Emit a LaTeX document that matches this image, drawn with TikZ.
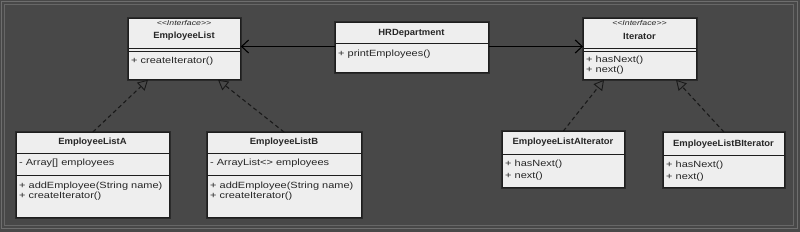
\documentclass[tikz,border=0pt]{standalone}
\usepackage{fontspec}
\setmainfont{Liberation Sans}
\newfontfamily\namefont{Liberation Sans}[FakeStretch=1.05]
\newfontfamily\bodyfont{Liberation Sans}[FakeStretch=1.22]
\newfontfamily\stfont{Liberation Sans}[FakeStretch=1.25]
\usetikzlibrary{arrows.meta,calc}
\definecolor{bgc}{HTML}{484848}
\definecolor{framec}{HTML}{6E6E6E}
\definecolor{boxfill}{HTML}{EEEEEE}
\definecolor{boxline}{HTML}{1E1E1E}
\definecolor{txt}{HTML}{262626}
\begin{document}
\begin{tikzpicture}[x=1pt,y=-1pt,
  box/.style={draw=boxline, fill=boxfill, line width=0.8pt, inner sep=0pt, anchor=north west,
    preaction={draw=black!40!bgc, line width=3.5pt}},
  sepline/.style={draw=boxline, line width=0.8pt},
  namet/.style={font=\namefont\bfseries\fontsize{9}{10}\selectfont, text=txt, inner sep=0pt},
  stt/.style={font=\stfont\itshape\fontsize{7}{8}\selectfont, text=txt, inner sep=0pt},
  memb/.style={font=\bodyfont\fontsize{9}{10}\selectfont, text=txt, inner sep=0pt, anchor=west},
  assoc/.style={draw=black, line width=1.1pt, -{Straight Barb[length=7pt,width=13pt,line width=1.1pt]}},
  realize/.style={draw=black!90, line width=1.1pt, dash pattern=on 4pt off 3pt,
    -{Triangle[length=10pt,width=11pt,fill=bgc,line width=0.9pt]}}
]
% background and frame
\fill[bgc] (0,0) rectangle (800,232);
\useasboundingbox (0,0) rectangle (800,232);
\draw[framec, line width=0.8pt] (1.5,1.5) rectangle (797,228.5);
\draw[framec!80!bgc, line width=0.6pt] (4.5,4.5) rectangle (793.5,225.5);

% EmployeeList
\node[box, minimum width=112pt, minimum height=61pt] (el) at (128,18) {};
\node[stt] (elst) at (184,23.5) {<<Interface>>};
\node[namet] (eln) at (184,36.5) {EmployeeList};
\draw[sepline] ($(el.north west)+(0,30)$) -- ($(el.north east)+(0,30)$);
\draw[sepline] ($(el.north west)+(0,33)$) -- ($(el.north east)+(0,33)$);
\node[memb] (elm1) at (131,61) {+ createIterator()};

% HRDepartment
\node[box, minimum width=153pt, minimum height=50pt] (hr) at (335,22) {};
\node[namet] (hrn) at (411.5,33) {HRDepartment};
\draw[sepline] ($(hr.north west)+(0,21)$) -- ($(hr.north east)+(0,21)$);
\node[memb] (hrm1) at (338,54) {+ printEmployees()};

% Iterator
\node[box, minimum width=113pt, minimum height=61pt] (it) at (583,18) {};
\node[stt] (itst) at (639.5,23.5) {<<Interface>>};
\node[namet] (itn) at (639.5,36.5) {Iterator};
\draw[sepline] ($(it.north west)+(0,30)$) -- ($(it.north east)+(0,30)$);
\draw[sepline] ($(it.north west)+(0,33)$) -- ($(it.north east)+(0,33)$);
\node[memb] (itm1) at (586,60.5) {+ hasNext()};
\node[memb] (itm2) at (586,70.5) {+ next()};

% EmployeeListA
\node[box, minimum width=153pt, minimum height=85pt] (ea) at (16,132) {};
\node[namet] (ean) at (92.5,142.5) {EmployeeListA};
\draw[sepline] ($(ea.north west)+(0,21)$) -- ($(ea.north east)+(0,21)$);
\node[memb] (eaa1) at (19,163) {- Array[] employees};
\draw[sepline] ($(ea.north west)+(0,43)$) -- ($(ea.north east)+(0,43)$);
\node[memb] (eam1) at (19,186) {+ addEmployee(String name)};
\node[memb] (eam2) at (19,196) {+ createIterator()};

% EmployeeListB
\node[box, minimum width=154pt, minimum height=85pt] (eb) at (207,132) {};
\node[namet] (ebn) at (284,142.5) {EmployeeListB};
\draw[sepline] ($(eb.north west)+(0,21)$) -- ($(eb.north east)+(0,21)$);
\node[memb] (eba1) at (210,163) {- ArrayList<> employees};
\draw[sepline] ($(eb.north west)+(0,43)$) -- ($(eb.north east)+(0,43)$);
\node[memb] (ebm1) at (210,186) {+ addEmployee(String name)};
\node[memb] (ebm2) at (210,196) {+ createIterator()};

% EmployeeListAIterator
\node[box, minimum width=122pt, minimum height=56pt] (ai) at (502,131) {};
\node[namet] (ain) at (563,142.5) {EmployeeListAIterator};
\draw[sepline] ($(ai.north west)+(0,23)$) -- ($(ai.north east)+(0,23)$);
\node[memb] (aim1) at (505,164.5) {+ hasNext()};
\node[memb] (aim2) at (505,176.5) {+ next()};

% EmployeeListBIterator
\node[box, minimum width=121pt, minimum height=55pt] (bi) at (663,132) {};
\node[namet] (bin) at (723.5,144.5) {EmployeeListBIterator};
\draw[sepline] ($(bi.north west)+(0,23)$) -- ($(bi.north east)+(0,23)$);
\node[memb] (bim1) at (666,165.5) {+ hasNext()};
\node[memb] (bim2) at (666,177) {+ next()};

% associations
\draw[assoc] ($(hr.north west)+(0,24.5)$) -- ($(el.north east)+(0,28.5)$);
\draw[assoc] ($(hr.north east)+(0,24.5)$) -- ($(it.north west)+(0,28.5)$);

% realizations
\draw[realize] (ea.north) -- ($(el.south west)+(20,0)$);
\draw[realize] ($(eb.north west)+(77,0)$) -- ($(el.south west)+(90,0)$);
\draw[realize] (ai.north) -- ($(it.south west)+(21,0)$);
\draw[realize] (bi.north) -- ($(it.south west)+(93,0)$);
\end{tikzpicture}
\end{document}
